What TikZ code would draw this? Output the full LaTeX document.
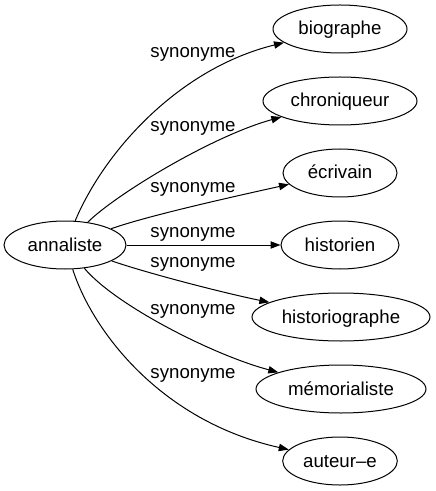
\documentclass[tikz,border=0pt]{standalone}
\usepackage{fontspec}
\setmainfont{Liberation Sans}
\usetikzlibrary{arrows.meta,shapes.geometric}
\begin{document}
\begin{tikzpicture}[x=0.75pt,y=-0.75pt,
  word/.style={draw,ellipse,line width=0.75pt,inner sep=0pt,minimum height=36pt,
    font=\fontsize{14pt}{16pt}\selectfont,text height=10pt,text depth=1pt},
  edge/.style={line width=0.75pt,-{Triangle[length=7.5pt,width=5.5pt]}},
  lbl/.style={anchor=base,inner sep=0pt,font=\fontsize{14pt}{16pt}\selectfont}]
\useasboundingbox (0,0) rectangle (435,491);
\node[word,minimum width=91.5pt] (a) at (65,245) {annaliste};
\node[word,minimum width=100.5pt] (b1) at (340,29) {biographe};
\node[word,minimum width=115.5pt] (b2) at (340,101) {chroniqueur};
\node[word,minimum width=85.5pt] (b3) at (340,173) {écrivain};
\node[word,minimum width=88.5pt] (b4) at (340,245) {historien};
\node[word,minimum width=133.5pt] (b5) at (341,317) {historiographe};
\node[word,minimum width=127.5pt] (b6) at (341,389) {mémorialiste};
\node[word,minimum width=86pt] (b7) at (340,461) {auteur–e};
\draw[edge] (a) .. controls (105,150) and (180,68) .. (b1);
\draw[edge] (a) .. controls (115,195) and (212,136) .. (b2);
\draw[edge] (a) .. controls (150,215) and (241,195) .. (b3);
\draw[edge] (a) -- (b4);
\draw[edge] (a) .. controls (150,274) and (224,293) .. (b5);
\draw[edge] (a) .. controls (115,305) and (213,355) .. (b6);
\draw[edge] (a) .. controls (92,330) and (160,421) .. (b7);
\node[lbl] (l1) at (193,58) {synonyme};
\node[lbl] (l2) at (193,132) {synonyme};
\node[lbl] (l3) at (193,193) {synonyme};
\node[lbl] (l4) at (193,238) {synonyme};
\node[lbl] (l5) at (193,267) {synonyme};
\node[lbl] (l6) at (193,314) {synonyme};
\node[lbl] (l7) at (193,378) {synonyme};
\end{tikzpicture}
\end{document}
